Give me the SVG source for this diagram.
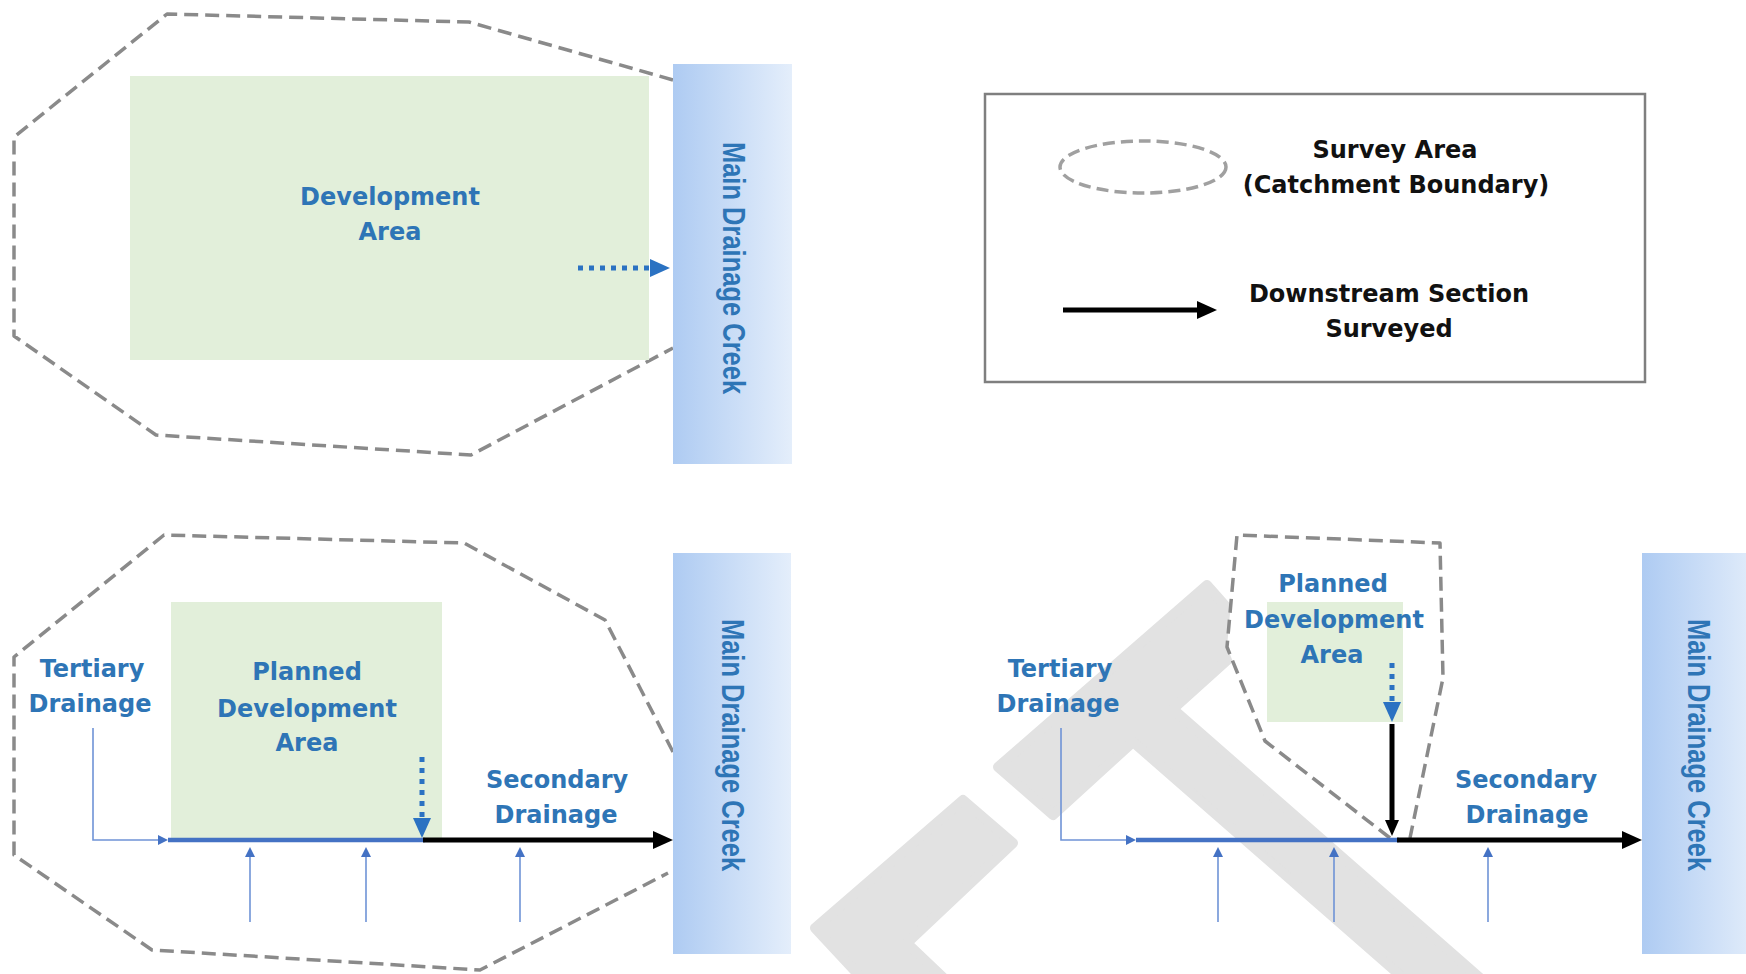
<svg xmlns="http://www.w3.org/2000/svg" width="1746" height="974" viewBox="0 0 1746 974">
  <defs>
    <linearGradient id="creekGrad" x1="0" y1="0" x2="1" y2="0">
      <stop offset="0" stop-color="#aecbf2"/>
      <stop offset="1" stop-color="#e4eefb"/>
    </linearGradient>
    <marker id="ahBlack" markerUnits="userSpaceOnUse" markerWidth="20" markerHeight="18" refX="4" refY="9" orient="auto">
      <path d="M0,0 L20,9 L0,18 Z" fill="#000"/>
    </marker>
    <marker id="ahBlackSm" markerUnits="userSpaceOnUse" markerWidth="16" markerHeight="14" refX="4" refY="7" orient="auto">
      <path d="M0,0 L16,7 L0,14 Z" fill="#000"/>
    </marker>
    <marker id="ahDot" markerUnits="userSpaceOnUse" markerWidth="20" markerHeight="18" refX="0" refY="9" orient="auto">
      <path d="M0,0 L20,9 L0,18 Z" fill="#2b72c2"/>
    </marker>
    <marker id="ahSmall" markerUnits="userSpaceOnUse" markerWidth="10" markerHeight="10" refX="2" refY="5" orient="auto">
      <path d="M0,0 L10,5 L0,10 Z" fill="#4472c4"/>
    </marker>
    <style>
      .bnd { fill: none; stroke: #8a8a8a; stroke-width: 3.5; stroke-dasharray: 14 7; stroke-linejoin: round; }
      .dev { fill: #e2efda; }
      .creek { fill: url(#creekGrad); }
      .t { font-family: "DejaVu Sans", "Liberation Sans", sans-serif; font-weight: bold; font-size: 24px; fill: #2e75b6; text-anchor: middle; }
      .tk { font-family: "DejaVu Sans", "Liberation Sans", sans-serif; font-weight: bold; font-size: 24px; fill: #111; text-anchor: middle; }
      .c { font-family: "Liberation Sans", Arial, sans-serif; font-weight: bold; font-size: 25.5px; fill: #2e75b6; text-anchor: middle; }
      .thin { fill: none; stroke: #6f93d6; stroke-width: 1.6; }
      .main { fill: none; stroke: #4472c4; stroke-width: 4.5; }
      .blk { fill: none; stroke: #000; stroke-width: 5; }
      .dot { fill: none; stroke: #2b72c2; stroke-width: 5; stroke-dasharray: 5 6; }
      .wm { fill: #e2e2e2; stroke: #e2e2e2; stroke-width: 10; stroke-linejoin: round; }
    </style>
  </defs>

  <rect x="0" y="0" width="1746" height="974" fill="#fff"/>

  <!-- watermark -->
  <g id="watermark">
    <polygon class="wm" points="963,800 1013,843 907,943 950,984 867,984 815,928"/>
    <polygon class="wm" points="998,767 1207,585 1253,637 1173,709 1487,984 1410,984 1133,742 1053,815"/>
  </g>

  <!-- top-left panel -->
  <g id="boundary-top">
    <path class="bnd" d="M673,80 L469,22 L167,14 L14,137 L14,336 L156,435 L471,455 L673,348"/>
  </g>
  <g id="development-area">
    <rect class="dev" x="130" y="76" width="519" height="284"/>
    <text class="t" x="390" y="205">Development</text>
    <text class="t" x="390" y="240">Area</text>
  </g>
  <g id="creek-top">
    <rect class="creek" x="673" y="64" width="119" height="400"/>
    <text class="c" transform="translate(723,268) rotate(90) scale(1,1.2)">Main Drainage Creek</text>
  </g>

  <!-- legend -->
  <g id="legend">
    <rect x="985" y="94" width="660" height="288" fill="#fff" stroke="#7f7f7f" stroke-width="2.5"/>
    <ellipse cx="1143" cy="167" rx="83" ry="26" fill="none" stroke="#a0a0a0" stroke-width="3.5" stroke-dasharray="12 6"/>
    <text class="tk" x="1395" y="158">Survey Area</text>
    <text class="tk" x="1396" y="193">(Catchment Boundary)</text>
    <line class="blk" x1="1063" y1="310" x2="1201" y2="310" marker-end="url(#ahBlack)"/>
    <text class="tk" x="1389" y="302">Downstream Section</text>
    <text class="tk" x="1389" y="337">Surveyed</text>
  </g>

  <!-- bottom-left panel -->
  <g id="boundary-bottom-left">
    <path class="bnd" d="M673,752 L605,620 L464,543 L164,535 L14,657 L14,855 L152,950 L480,970 L668,873"/>
  </g>
  <g id="planned-area-left">
    <rect class="dev" x="171" y="602" width="271" height="238"/>
    <text class="t" x="307" y="680">Planned</text>
    <text class="t" x="307" y="717">Development</text>
    <text class="t" x="307" y="751">Area</text>
  </g>
  <g id="creek-bottom-left">
    <rect class="creek" x="673" y="553" width="118" height="401"/>
    <text class="c" transform="translate(722,745) rotate(90) scale(1,1.2)">Main Drainage Creek</text>
  </g>
  <g id="labels-left">
    <text class="t" x="92" y="677">Tertiary</text>
    <text class="t" x="90" y="712">Drainage</text>
    <text class="t" x="557" y="788">Secondary</text>
    <text class="t" x="556" y="823">Drainage</text>
  </g>

  <!-- bottom-right panel -->
  <g id="boundary-bottom-right">
    <path class="bnd" style="fill:#fff" d="M1390,838 L1265,741 L1227,647 L1237,535 L1440,543 L1443,678 L1410,838"/>
  </g>
  <g id="planned-area-right">
    <rect class="dev" x="1267" y="602" width="136" height="120"/>
    <text class="t" x="1333" y="592">Planned</text>
    <text class="t" x="1334" y="628">Development</text>
    <text class="t" x="1332" y="663">Area</text>
  </g>
  <g id="creek-bottom-right">
    <rect class="creek" x="1642" y="553" width="118" height="401"/>
    <text class="c" transform="translate(1688,745) rotate(90) scale(1,1.2)">Main Drainage Creek</text>
  </g>
  <g id="labels-right">
    <text class="t" x="1060" y="677">Tertiary</text>
    <text class="t" x="1058" y="712">Drainage</text>
    <text class="t" x="1526" y="788">Secondary</text>
    <text class="t" x="1527" y="823">Drainage</text>
  </g>

  <!-- connectors -->
  <g id="connectors">
    <!-- top-left -->
    <line class="dot" x1="578" y1="268" x2="650" y2="268" marker-end="url(#ahDot)"/>

    <!-- bottom-left -->
    <polyline class="thin" points="93,728 93,840 160,840" marker-end="url(#ahSmall)"/>
    <line class="main" x1="168" y1="840" x2="425" y2="840"/>
    <line class="blk" x1="423" y1="840" x2="657" y2="840" marker-end="url(#ahBlack)"/>
    <line class="dot" x1="422" y1="757" x2="422" y2="818" marker-end="url(#ahDot)"/>
    <line class="thin" x1="250" y1="922" x2="250" y2="855" marker-end="url(#ahSmall)"/>
    <line class="thin" x1="366" y1="922" x2="366" y2="855" marker-end="url(#ahSmall)"/>
    <line class="thin" x1="520" y1="922" x2="520" y2="855" marker-end="url(#ahSmall)"/>

    <!-- bottom-right -->
    <polyline class="thin" points="1061,728 1061,840 1128,840" marker-end="url(#ahSmall)"/>
    <line class="main" x1="1136" y1="840" x2="1399" y2="840"/>
    <line class="blk" x1="1397" y1="840" x2="1626" y2="840" marker-end="url(#ahBlack)"/>
    <line class="dot" x1="1392" y1="663" x2="1392" y2="702" marker-end="url(#ahDot)"/>
    <line class="blk" x1="1392" y1="724" x2="1392" y2="824" stroke-width="4" marker-end="url(#ahBlackSm)"/>
    <line class="thin" x1="1218" y1="922" x2="1218" y2="855" marker-end="url(#ahSmall)"/>
    <line class="thin" x1="1334" y1="922" x2="1334" y2="855" marker-end="url(#ahSmall)"/>
    <line class="thin" x1="1488" y1="922" x2="1488" y2="855" marker-end="url(#ahSmall)"/>
  </g>
</svg>
